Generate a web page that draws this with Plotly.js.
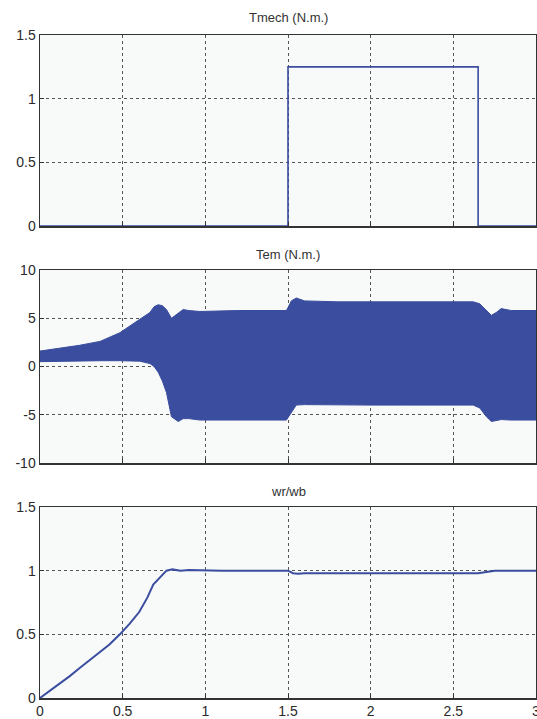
<!DOCTYPE html>
<html>
<head>
<meta charset="utf-8">
<script src="https://cdn.plot.ly/plotly-3.0.1.min.js"></script>
<style>
  html, body { margin: 0; padding: 0; background: #ffffff; }
  #chart { width: 537px; height: 719px; }
</style>
</head>
<body>
<div id="chart"></div>
<script>
// Load torque step (N.m.)
const tmechTime = [0, 1.5, 1.5, 2.65, 2.65, 3.0];
const tmechValue = [0, 0, 1.25, 1.25, 0, 0];

// Electromagnetic torque: upper and lower envelope of the ripple band (N.m.)
const temTime = [0, 0.12, 0.24, 0.363, 0.483, 0.604, 0.665, 0.69, 0.715, 0.74, 0.765, 0.795, 0.836, 0.866, 0.9, 0.967, 1.2, 1.49, 1.5, 1.52, 1.55, 1.6, 1.8, 2.0, 2.2, 2.4, 2.62, 2.66, 2.7, 2.73, 2.76, 2.79, 2.85, 3.0];
const temUpper = [1.6, 1.9, 2.2, 2.6, 3.5, 4.9, 5.6, 6.2, 6.4, 6.3, 5.9, 5.0, 5.5, 5.9, 5.8, 5.7, 5.8, 5.8, 6.1, 6.8, 7.1, 6.8, 6.7, 6.7, 6.7, 6.7, 6.7, 6.5, 5.8, 5.3, 5.6, 6.0, 5.8, 5.8];
const temLower = [0.5, 0.55, 0.6, 0.6, 0.6, 0.55, 0.3, 0.0, -0.6, -1.5, -2.7, -5.2, -5.7, -5.4, -5.4, -5.55, -5.55, -5.55, -5.3, -4.8, -4.0, -3.95, -4.0, -4.0, -4.0, -4.0, -4.0, -4.3, -5.2, -5.7, -5.6, -5.5, -5.55, -5.55];

// Per-unit rotor speed
const speedTime = [0, 0.06, 0.12, 0.18, 0.24, 0.3, 0.36, 0.42, 0.483, 0.54, 0.6, 0.65, 0.685, 0.715, 0.74, 0.765, 0.8, 0.85, 0.9, 1.0, 1.1, 1.2, 1.3, 1.4, 1.5, 1.53, 1.56, 1.6, 1.8, 2.0, 2.2, 2.4, 2.6, 2.65, 2.7, 2.75, 2.8, 3.0];
const speedValue = [0, 0.055, 0.112, 0.172, 0.235, 0.295, 0.357, 0.42, 0.5, 0.58, 0.675, 0.79, 0.89, 0.93, 0.97, 1.0, 1.01, 1.0, 1.005, 1.0, 1.0, 1.0, 1.0, 1.0, 1.0, 0.98, 0.975, 0.98, 0.98, 0.98, 0.98, 0.98, 0.98, 0.98, 0.99, 1.0, 1.0, 1.0];

// Axis labels
const xTicks = [0, 0.5, 1, 1.5, 2, 2.5, 3];
const xTickText = ['0', '0.5', '1', '1.5', '2', '2.5', '3'];
const unitTicks = [0, 0.5, 1, 1.5];
const unitTickText = ['0', '0.5', '1', '1.5'];
const temTicks = [-10, -5, 0, 5, 10];
const temTickText = ['-10', '-5', '0', '5', '10'];
const titles = ['Tmech (N.m.)', 'Tem (N.m.)', 'wr/wb'];

const blue = '#3a4d9f';
const tickFont = { family: 'Liberation Sans, Arial, sans-serif', size: 14, color: '#2a2a2a' };

const traces = [
  { x: tmechTime, y: tmechValue, xaxis: 'x', yaxis: 'y', mode: 'lines',
    line: { color: blue, width: 1.6 }, hoverinfo: 'skip' },
  { x: temTime, y: temLower, xaxis: 'x2', yaxis: 'y2', mode: 'lines',
    line: { color: blue, width: 1 }, hoverinfo: 'skip' },
  { x: temTime, y: temUpper, xaxis: 'x2', yaxis: 'y2', mode: 'lines', fill: 'tonexty',
    fillcolor: blue, line: { color: blue, width: 1 }, hoverinfo: 'skip' },
  { x: speedTime, y: speedValue, xaxis: 'x3', yaxis: 'y3', mode: 'lines',
    line: { color: blue, width: 2 }, hoverinfo: 'skip' }
];

function xAxis(anchor, labels) {
  return {
    anchor: anchor, domain: [0, 1], range: [0, 3], tickvals: xTicks, ticktext: xTickText,
    showticklabels: labels, tickfont: tickFont, ticklabeloverflow: 'allow',
    showgrid: true, gridcolor: '#555555', griddash: 'dot', gridwidth: 1,
    showline: true, linecolor: '#333333', linewidth: 1.5, mirror: true,
    ticks: 'inside', ticklen: 4, tickcolor: '#333333', zeroline: false, fixedrange: true
  };
}
function yAxis(anchor, domain, range, vals, text) {
  return {
    anchor: anchor, domain: domain, range: range, tickvals: vals, ticktext: text,
    tickfont: tickFont, showgrid: true, gridcolor: '#555555', griddash: 'dot', gridwidth: 1,
    showline: true, linecolor: '#333333', linewidth: 1.5, mirror: true,
    ticks: 'inside', ticklen: 4, tickcolor: '#333333', zeroline: false, fixedrange: true
  };
}

const H = 719;
const dom = (top, bottom) => [1 - bottom / H, 1 - top / H];

const layout = {
  width: 537, height: 719,
  margin: { l: 40, r: 1, t: 0, b: 0 },
  paper_bgcolor: '#ffffff',
  plot_bgcolor: '#f8f9f9',
  showlegend: false,
  xaxis: xAxis('y', false),
  xaxis2: xAxis('y2', false),
  xaxis3: xAxis('y3', true),
  yaxis: yAxis('x', dom(35, 226), [0, 1.5], unitTicks, unitTickText),
  yaxis2: yAxis('x2', dom(270, 463), [-10, 10], temTicks, temTickText),
  yaxis3: yAxis('x3', dom(507, 698), [0, 1.5], unitTicks, unitTickText),
  annotations: [
    { text: titles[0], y: 1 - 18 / H },
    { text: titles[1], y: 1 - 255 / H },
    { text: titles[2], y: 1 - 491 / H }
  ].map(a => Object.assign(a, {
    xref: 'paper', yref: 'paper', x: 0.5, xanchor: 'center', yanchor: 'middle',
    showarrow: false, font: { family: 'Liberation Sans, Arial, sans-serif', size: 13, color: '#333333' }
  }))
};

Plotly.newPlot('chart', traces, layout, { displayModeBar: false, staticPlot: true });
</script>
</body>
</html>
